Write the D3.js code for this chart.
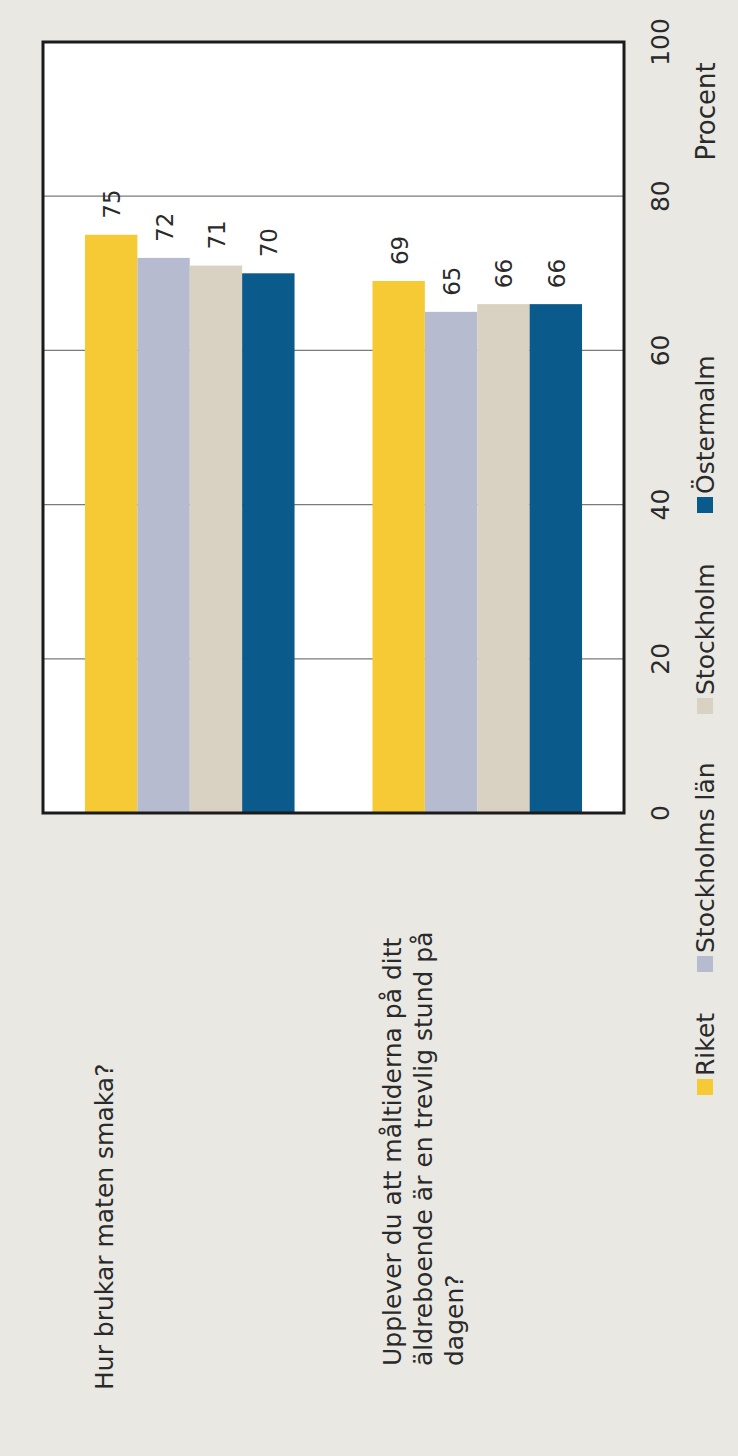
<!DOCTYPE html>
<html><head><meta charset="utf-8">
<script src="https://cdn.jsdelivr.net/npm/d3@7"></script>
<style>html,body{margin:0;padding:0;background:#e9e8e3;overflow:hidden}</style>
</head>
<body><svg id="c" width="738" height="1456"></svg>
<script>
// ---- data ----
const categoryLines = [
  ["Hur brukar maten smaka?"],
  ["Upplever du att måltiderna på ditt", "äldreboende är en trevlig stund på", "dagen?"]
];
const seriesNames = ["Riket", "Stockholms län", "Stockholm", "Östermalm"];
const riket = [75, 69];
const stockholmsLan = [72, 65];
const stockholm = [71, 66];
const ostermalm = [70, 66];
const tickValues = [0, 20, 40, 60, 80, 100];
const gridValues = [20, 40, 60, 80];
const axisTitle = "Procent";

// ---- styles / layout ----
const colors = ["#f6ca34", "#b7bbd0", "#d9d1c2", "#0b5a8c"];
const FONT = "'DejaVu Sans', sans-serif";
const TEXT = "#2a2a2a";
const frame = {x0: 43, x1: 624, y0: 42, y1: 813};
const labelStartY = [1390, 1366];
const legendStartY = [1095, 972, 714, 513];

const series = [riket, stockholmsLan, stockholm, ostermalm];
const cats = categoryLines.map((d, i) => i);

const svg = d3.select("#c");
svg.append("rect").attr("width", 738).attr("height", 1456).attr("fill", "#e9e8e3");

const x0 = d3.scaleBand().domain(cats).range([frame.x0, frame.x1])
  .paddingInner(0.271).paddingOuter(0.146);
const x1 = d3.scaleBand().domain(d3.range(series.length)).range([0, x0.bandwidth()]).padding(0);
const y = d3.scaleLinear().domain([0, 100]).range([frame.y1, frame.y0]);

// plot background
svg.append("rect").attr("x", frame.x0).attr("y", frame.y0)
  .attr("width", frame.x1 - frame.x0).attr("height", frame.y1 - frame.y0)
  .attr("fill", "#ffffff");

// grid
svg.append("g").selectAll("line").data(gridValues).join("line")
  .attr("x1", frame.x0).attr("x2", frame.x1)
  .attr("y1", d => y(d)).attr("y2", d => y(d))
  .attr("stroke", "#7a7a7a").attr("stroke-width", 1.2);

// bars
const groups = svg.append("g").selectAll("g").data(cats).join("g")
  .attr("transform", c => `translate(${x0(c)},0)`);
groups.selectAll("rect").data(c => series.map((s, i) => ({i, v: s[c]}))).join("rect")
  .attr("x", d => x1(d.i)).attr("width", x1.bandwidth())
  .attr("y", d => y(d.v)).attr("height", d => y(0) - y(d.v))
  .attr("fill", d => colors[d.i]);

// value labels
groups.selectAll("text").data(c => series.map((s, i) => ({i, v: s[c]}))).join("text")
  .attr("transform", d => `translate(${x1(d.i) + x1.bandwidth() / 2 + 1},${y(d.v) - 16}) rotate(-90)`)
  .attr("text-anchor", "start").attr("dominant-baseline", "central")
  .attr("font-family", FONT).attr("font-size", 23).attr("fill", TEXT)
  .text(d => d.v);

// frame
svg.append("rect").attr("x", frame.x0).attr("y", frame.y0)
  .attr("width", frame.x1 - frame.x0).attr("height", frame.y1 - frame.y0)
  .attr("fill", "none").attr("stroke", "#1b1b1b").attr("stroke-width", 3);

// value axis (tick labels)
const ax = svg.append("g").attr("transform", "translate(660,0)")
  .call(d3.axisRight(y).tickValues(tickValues).tickSize(0));
ax.select(".domain").remove();
ax.selectAll(".tick").attr("transform", null);
ax.selectAll("text")
  .attr("x", 0).attr("y", 0).attr("dy", null)
  .attr("transform", d => `translate(0,${y(d)}) rotate(-90)`)
  .attr("text-anchor", "middle").attr("dominant-baseline", "central")
  .attr("font-family", FONT).attr("font-size", 25).attr("fill", TEXT);

svg.append("text")
  .attr("transform", `translate(706,${y(91)}) rotate(-90)`)
  .attr("text-anchor", "middle").attr("dominant-baseline", "central")
  .attr("font-family", FONT).attr("font-size", 26).attr("fill", TEXT)
  .text(axisTitle);

// category labels
cats.forEach(c => {
  categoryLines[c].forEach((line, j) => {
    svg.append("text")
      .attr("transform", `translate(${x0(c) + 20 + j * 31},${labelStartY[c]}) rotate(-90)`)
      .attr("text-anchor", "start").attr("dominant-baseline", "central")
      .attr("font-family", FONT).attr("font-size", 25).attr("fill", TEXT)
      .text(line);
  });
});

// legend
const lg = svg.append("g").selectAll("g").data(seriesNames).join("g")
  .attr("transform", (d, i) => `translate(705,${legendStartY[i]}) rotate(-90)`);
lg.append("rect").attr("x", 0).attr("y", -8).attr("width", 16).attr("height", 16)
  .attr("fill", (d, i) => colors[i]);
lg.append("text").attr("x", 19).attr("y", 0)
  .attr("dominant-baseline", "central")
  .attr("font-family", FONT).attr("font-size", 25).attr("fill", TEXT)
  .text(d => d);
</script>
</body></html>
